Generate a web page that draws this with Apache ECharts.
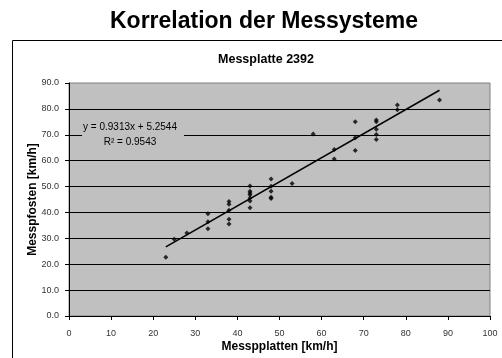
<!DOCTYPE html>
<html>
<head>
<meta charset="utf-8">
<script src="https://cdn.jsdelivr.net/npm/echarts@6/dist/echarts.min.js"></script>
<style>
  html, body { margin: 0; padding: 0; background: #fff; }
  #chart { width: 502px; height: 358px; }
</style>
</head>
<body>
<div id="chart"></div>
<script>
// Messwerte: Messplatte (x) gegen Messpfosten (y), beide in km/h
const plateSpeeds = [
  23, 25, 28,
  33, 33, 33,
  38, 38, 38, 38, 38,
  43, 43, 43, 43, 43, 43, 43,
  48, 48, 48, 48, 48,
  53, 58,
  63, 63,
  68, 68, 68,
  73, 73, 73, 73, 73,
  78, 78,
  88
];
const postSpeeds = [
  22.7, 29.6, 32.1,
  39.5, 36.4, 33.7,
  44.2, 43.2, 40.8, 37.4, 35.5,
  50.2, 48.2, 47.5, 46.8, 45.6, 44.4, 41.8,
  52.9, 50.1, 48.2, 45.9, 45.4,
  51.2, 70.3,
  64.3, 60.6,
  75.0, 68.9, 63.9,
  75.7, 75.0, 72.1, 70.1, 68.2,
  81.5, 79.7,
  83.4
];

// Lineare Trendlinie (Excel-Ausgleichsgerade)
const trendSlope = 0.9313;
const trendIntercept = 5.2544;
const rSquared = 0.9543;

// Achsenbeschriftungen
const xTickLabels = ['0', '10', '20', '30', '40', '50', '60', '70', '80', '90', '100'];
const yTickLabels = ['0.0', '10.0', '20.0', '30.0', '40.0', '50.0', '60.0', '70.0', '80.0', '90.0'];

const points = plateSpeeds.map((x, i) => [x, postSpeeds[i]]);
const xMin = Math.min(...plateSpeeds);
const xMax = Math.max(...plateSpeeds);
const trendLine = [xMin, xMax].map(x => [x, trendSlope * x + trendIntercept]);

const FONT = '"Liberation Sans", Arial, sans-serif';
const chart = echarts.init(document.getElementById('chart'), null, { renderer: 'canvas' });

chart.setOption({
  backgroundColor: '#ffffff',
  animation: false,
  title: [
    {
      text: 'Korrelation der Messysteme',
      left: 259, top: 5, textAlign: 'center',
      textStyle: { fontFamily: FONT, fontSize: 23, fontWeight: 'bold', color: '#000' }
    },
    {
      text: 'Messplatte 2392',
      left: 261, top: 48, textAlign: 'center',
      textStyle: { fontFamily: FONT, fontSize: 12.5, fontWeight: 'bold', color: '#000' }
    }
  ],
  grid: {
    left: 69, right: 12, top: 83, bottom: 38,
    show: true,
    backgroundColor: '#c0c0c0',
    borderColor: '#808080',
    borderWidth: 1
  },
  xAxis: {
    type: 'value',
    min: 0, max: 100, interval: 10,
    name: 'Messpplatten [km/h]',
    nameLocation: 'middle',
    nameGap: 25,
    nameMoveOverlap: false,
    nameTextStyle: { fontFamily: FONT, fontSize: 12, fontWeight: 'bold', color: '#000' },
    axisLine: { show: true, lineStyle: { color: '#000', width: 1 } },
    axisTick: { show: true, length: 4, lineStyle: { color: '#000' } },
    axisLabel: {
      fontFamily: FONT, fontSize: 9, color: '#333', margin: 13,
      formatter: (v) => xTickLabels[Math.round(v / 10)]
    },
    splitLine: { show: false }
  },
  yAxis: {
    type: 'value',
    min: 0, max: 90, interval: 10,
    name: 'Messpfosten [km/h]',
    nameLocation: 'middle',
    nameGap: 30,
    nameMoveOverlap: false,
    nameTextStyle: { fontFamily: FONT, fontSize: 12, fontWeight: 'bold', color: '#000' },
    axisLine: { show: true, lineStyle: { color: '#000', width: 1 } },
    axisTick: { show: true, length: 4, lineStyle: { color: '#000' } },
    axisLabel: {
      fontFamily: FONT, fontSize: 9, color: '#333', margin: 10,
      formatter: (v) => yTickLabels[Math.round(v / 10)]
    },
    splitLine: { show: true, showMaxLine: false, lineStyle: { color: '#000', width: 1 } }
  },
  series: [
    {
      name: 'Trend',
      type: 'line',
      data: trendLine,
      symbol: 'none',
      lineStyle: { color: '#000', width: 1.5 },
      z: 3
    },
    {
      name: 'Messwerte',
      type: 'scatter',
      data: points,
      symbol: 'diamond',
      symbolSize: 5,
      itemStyle: { color: '#000' },
      z: 4
    }
  ],
  graphic: [
    {
      type: 'rect',
      shape: { x: 12.5, y: 40.5, width: 540, height: 360 },
      style: { fill: 'none', stroke: '#000', lineWidth: 1 },
      silent: true
    },
    {
      type: 'rect',
      shape: { x: 82, y: 118, width: 102, height: 31 },
      style: { fill: '#c0c0c0' },
      z: 10
    },
    {
      type: 'text',
      x: 130, y: 127,
      style: {
        text: 'y = ' + trendSlope.toFixed(4) + 'x + ' + trendIntercept.toFixed(4),
        font: '10px ' + FONT, fill: '#000', align: 'center', verticalAlign: 'middle'
      },
      z: 11
    },
    {
      type: 'text',
      x: 130, y: 142,
      style: {
        text: 'R² = ' + rSquared.toFixed(4),
        font: '10px ' + FONT, fill: '#000', align: 'center', verticalAlign: 'middle'
      },
      z: 11
    }
  ]
});
</script>
</body>
</html>
